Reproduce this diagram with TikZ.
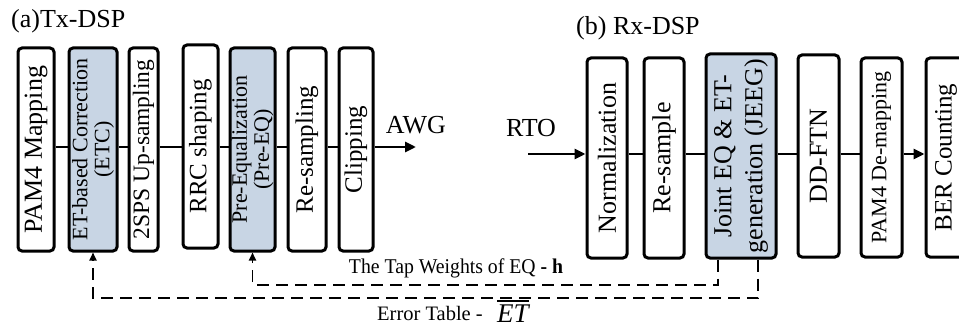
\documentclass[tikz,border=0pt]{standalone}
\usepackage{fontspec}
\setmainfont{Liberation Serif}
\usetikzlibrary{arrows.meta}
\definecolor{boxblue}{RGB}{200,213,228}
\begin{document}
\begin{tikzpicture}[x=1pt,y=-1pt,
  blk/.style={draw=black,line width=3pt,rounded corners=4pt,fill=white,inner sep=0pt},
  blkf/.style={blk,fill=boxblue},
  lbl/.style={rotate=90,align=center,inner sep=0pt},
  flow/.style={line width=2.7pt},
  flowarr/.style={line width=2.7pt,-{Triangle[length=11pt,width=10pt]}},
  fb/.style={line width=1.9pt,dash pattern=on 12pt off 7pt,-{Triangle[length=8pt,width=7pt]}}]
\useasboundingbox (0,0) rectangle (959,326);
\clip (0,0) rectangle (959,326);
% titles
\node[anchor=west,font=\fontsize{26}{28}\selectfont,inner sep=0pt] (ta) at (11,21) {(a)Tx-DSP};
\node[anchor=west,font=\fontsize{26}{28}\selectfont,inner sep=0pt] (tb) at (576,28) {(b) Rx-DSP};
% Tx boxes
\node[blk,minimum width=36pt,minimum height=203pt] (pam) at (36,149.5) {};
\node[lbl,font=\fontsize{26}{28}\selectfont] at (pam.center) {PAM4 Mapping};
\node[blkf,minimum width=48pt,minimum height=203pt] (etc) at (93,149.5) {};
\node[lbl,font=\fontsize{22}{22}\selectfont] at (etc.center) {ET-based Correction\\(ETC)};
\node[blk,minimum width=29pt,minimum height=203pt] (ups) at (143.5,149.5) {};
\node[lbl,font=\fontsize{23.5}{25}\selectfont] at (ups.center) {2SPS Up-sampling};
\node[blk,minimum width=35pt,minimum height=203pt] (rrc) at (200.5,146.5) {};
\node[lbl,font=\fontsize{25}{27}\selectfont] at (rrc.center) {RRC shaping};
\node[blkf,minimum width=45pt,minimum height=203pt] (peq) at (252.5,149.5) {};
\node[lbl,font=\fontsize{22}{22}\selectfont] at (peq.center) {Pre-Equalization\\(Pre-EQ)};
\node[blk,minimum width=38pt,minimum height=203pt] (rsm) at (307,149.5) {};
\node[lbl,font=\fontsize{25}{27}\selectfont] at (rsm.center) {Re-sampling};
\node[blk,minimum width=34pt,minimum height=203pt] (clp) at (356,149.5) {};
\node[lbl,font=\fontsize{25}{27}\selectfont] at (clp.center) {Clipping};
\coordinate (txl) at (0,147);
\coordinate (awgend) at (416,147);
\node[font=\fontsize{26}{28}\selectfont,inner sep=0pt] (awg) at (416,125) {AWG};
\draw[flow] (pam.east |- txl) -- (etc.west |- txl);
\draw[flow] (etc.east |- txl) -- (ups.west |- txl);
\draw[flow] (ups.east |- txl) -- (rrc.west |- txl);
\draw[flow] (rrc.east |- txl) -- (peq.west |- txl);
\draw[flow] (peq.east |- txl) -- (rsm.west |- txl);
\draw[flow] (rsm.east |- txl) -- (clp.west |- txl);
\draw[flowarr] (clp.east |- txl) -- (awgend);
% Rx boxes
\node[blk,minimum width=40pt,minimum height=200pt] (nrm) at (607,158) {};
\node[lbl,font=\fontsize{26}{28}\selectfont] at (nrm.center) {Normalization};
\node[blk,minimum width=40pt,minimum height=200pt] (rs2) at (664,158) {};
\node[lbl,font=\fontsize{26}{28}\selectfont] at (rs2.center) {Re-sample};
\node[blkf,minimum width=70pt,minimum height=204pt] (jeeg) at (741,156) {};
\node[lbl,font=\fontsize{26}{31}\selectfont] at (jeeg.center) {Joint EQ \& ET-\\generation (JEEG)};
\node[blk,minimum width=41pt,minimum height=202pt] (dd) at (818.5,156) {};
\node[lbl,font=\fontsize{26}{28}\selectfont] at (dd.center) {DD-FTN};
\node[blk,minimum width=41pt,minimum height=199pt] (dem) at (881.5,157.5) {};
\node[lbl,font=\fontsize{22}{24}\selectfont] at (dem.center) {PAM4 De-mapping};
\node[blk,minimum width=40pt,minimum height=199pt] (ber) at (946,157.5) {};
\node[lbl,font=\fontsize{25}{27}\selectfont] at (ber.center) {BER Counting};
\coordinate (rxl) at (0,154);
\coordinate (rtostart) at (528,154);
\node[font=\fontsize{26}{28}\selectfont,inner sep=0pt] (rto) at (531,128) {RTO};
\draw[flowarr] (rtostart) -- (nrm.west |- rxl);
\draw[flow] (nrm.east |- rxl) -- (rs2.west |- rxl);
\draw[flow] (rs2.east |- rxl) -- (jeeg.west |- rxl);
\draw[flow] (jeeg.east |- rxl) -- (dd.west |- rxl);
\draw[flow] (dd.east |- rxl) -- (dem.west |- rxl);
\draw[flowarr] (dem.east |- rxl) -- (ber.west |- rxl);
% feedback
\coordinate (fa) at (718,285);
\coordinate (fb2) at (758,298);
\draw[fb] (jeeg.south -| fa) -- (fa) -- (fa -| peq.south) -- (peq.south);
\draw[fb] (jeeg.south -| fb2) -- (fb2) -- (fb2 -| etc.south) -- (etc.south);
\node[font=\fontsize{21}{22}\selectfont,inner sep=0pt] (tw) at (456,268) {\scalebox{0.94}[1]{The Tap Weights of EQ \textbf{- h}}};
\node[font=\fontsize{20.5}{22}\selectfont,anchor=base west,inner sep=0pt] (et) at (377,320) {Error Table -};
\node[font=\fontsize{27}{28}\selectfont\itshape,anchor=base west,inner sep=0pt] (etv) at (497,322) {ET};
\draw[line width=1.3pt] ([yshift=3pt]etv.north west) -- ([yshift=3pt]etv.north east);
\end{tikzpicture}
\end{document}
